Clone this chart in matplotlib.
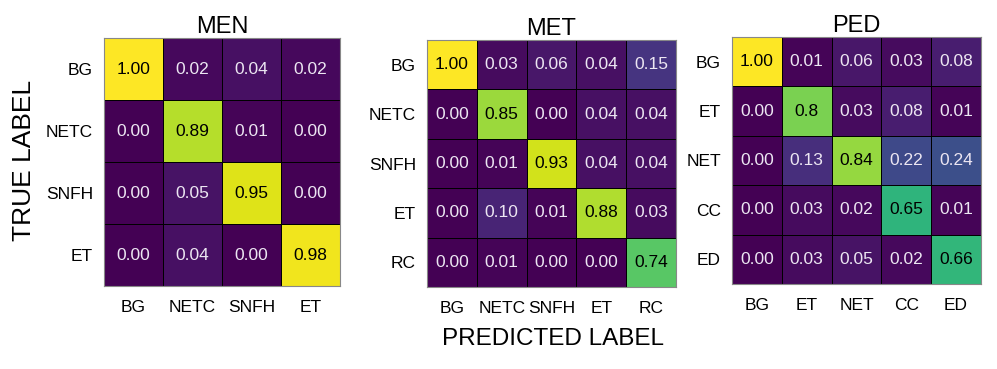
import numpy as np
import matplotlib
matplotlib.use("Agg")
import matplotlib.pyplot as plt

plt.rcParams['font.family'] = ['Liberation Sans', 'DejaVu Sans']

men_labels = ["BG", "NETC", "SNFH", "ET"]
men_values = [
    [1.00, 0.02, 0.04, 0.02],
    [0.00, 0.89, 0.01, 0.00],
    [0.00, 0.05, 0.95, 0.00],
    [0.00, 0.04, 0.00, 0.98],
]
men_text = [
    ["1.00", "0.02", "0.04", "0.02"],
    ["0.00", "0.89", "0.01", "0.00"],
    ["0.00", "0.05", "0.95", "0.00"],
    ["0.00", "0.04", "0.00", "0.98"],
]

met_labels = ["BG", "NETC", "SNFH", "ET", "RC"]
met_values = [
    [1.00, 0.03, 0.06, 0.04, 0.15],
    [0.00, 0.85, 0.00, 0.04, 0.04],
    [0.00, 0.01, 0.93, 0.04, 0.04],
    [0.00, 0.10, 0.01, 0.88, 0.03],
    [0.00, 0.01, 0.00, 0.00, 0.74],
]
met_text = [
    ["1.00", "0.03", "0.06", "0.04", "0.15"],
    ["0.00", "0.85", "0.00", "0.04", "0.04"],
    ["0.00", "0.01", "0.93", "0.04", "0.04"],
    ["0.00", "0.10", "0.01", "0.88", "0.03"],
    ["0.00", "0.01", "0.00", "0.00", "0.74"],
]

ped_labels = ["BG", "ET", "NET", "CC", "ED"]
ped_values = [
    [1.00, 0.01, 0.06, 0.03, 0.08],
    [0.00, 0.80, 0.03, 0.08, 0.01],
    [0.00, 0.13, 0.84, 0.22, 0.24],
    [0.00, 0.03, 0.02, 0.65, 0.01],
    [0.00, 0.03, 0.05, 0.02, 0.66],
]
ped_text = [
    ["1.00", "0.01", "0.06", "0.03", "0.08"],
    ["0.00", "0.8", "0.03", "0.08", "0.01"],
    ["0.00", "0.13", "0.84", "0.22", "0.24"],
    ["0.00", "0.03", "0.02", "0.65", "0.01"],
    ["0.00", "0.03", "0.05", "0.02", "0.66"],
]

titles = ["MEN", "MET", "PED"]

W, H = 997, 369
fig = plt.figure(figsize=(W / 100, H / 100), dpi=100)

# pixel boxes: left, top, right, bottom
boxes = [(104, 38, 340, 286), (427, 40, 676, 287), (732, 37, 981, 284)]
datasets = [(men_labels, men_values, men_text),
            (met_labels, met_values, met_text),
            (ped_labels, ped_values, ped_text)]

cmap = plt.get_cmap('viridis')
for (l, t, r, b), (labels, vals, txt), title in zip(boxes, datasets, titles):
    ax = fig.add_axes([l / W, 1 - b / H, (r - l) / W, (b - t) / H])
    arr = np.array(vals)
    n = arr.shape[0]
    ax.pcolormesh(np.arange(n + 1) - 0.5, np.arange(n + 1) - 0.5, arr,
                  cmap=cmap, vmin=0, vmax=1, edgecolors='black', linewidth=0.6)
    ax.set_xlim(-0.5, n - 0.5)
    ax.set_ylim(n - 0.5, -0.5)
    for i in range(n):
        for j in range(n):
            v = arr[i, j]
            ax.text(j, i, txt[i][j], ha='center', va='center', fontsize=12.5,
                    color='black' if v > 0.5 else '#ece6f2')
    ax.set_xticks(range(n))
    ax.set_xticklabels(labels, fontsize=12.5)
    ax.set_yticks(range(n))
    ax.set_yticklabels(labels, fontsize=12.5)
    ax.tick_params(length=0, pad=8)
    ax.tick_params(axis='x', pad=10)
    for s in ax.spines.values():
        s.set_color('#888888')
        s.set_linewidth(0.8)
    ax.set_title(title, fontsize=17, pad=3)

fig.text(24 / W, 1 - 160 / H, "TRUE LABEL", rotation=90, ha='center', va='center', fontsize=19)
fig.text(553 / W, 1 - 339 / H, "PREDICTED LABEL", ha='center', va='center', fontsize=17.5)

fig.savefig("out.png", dpi=100)
